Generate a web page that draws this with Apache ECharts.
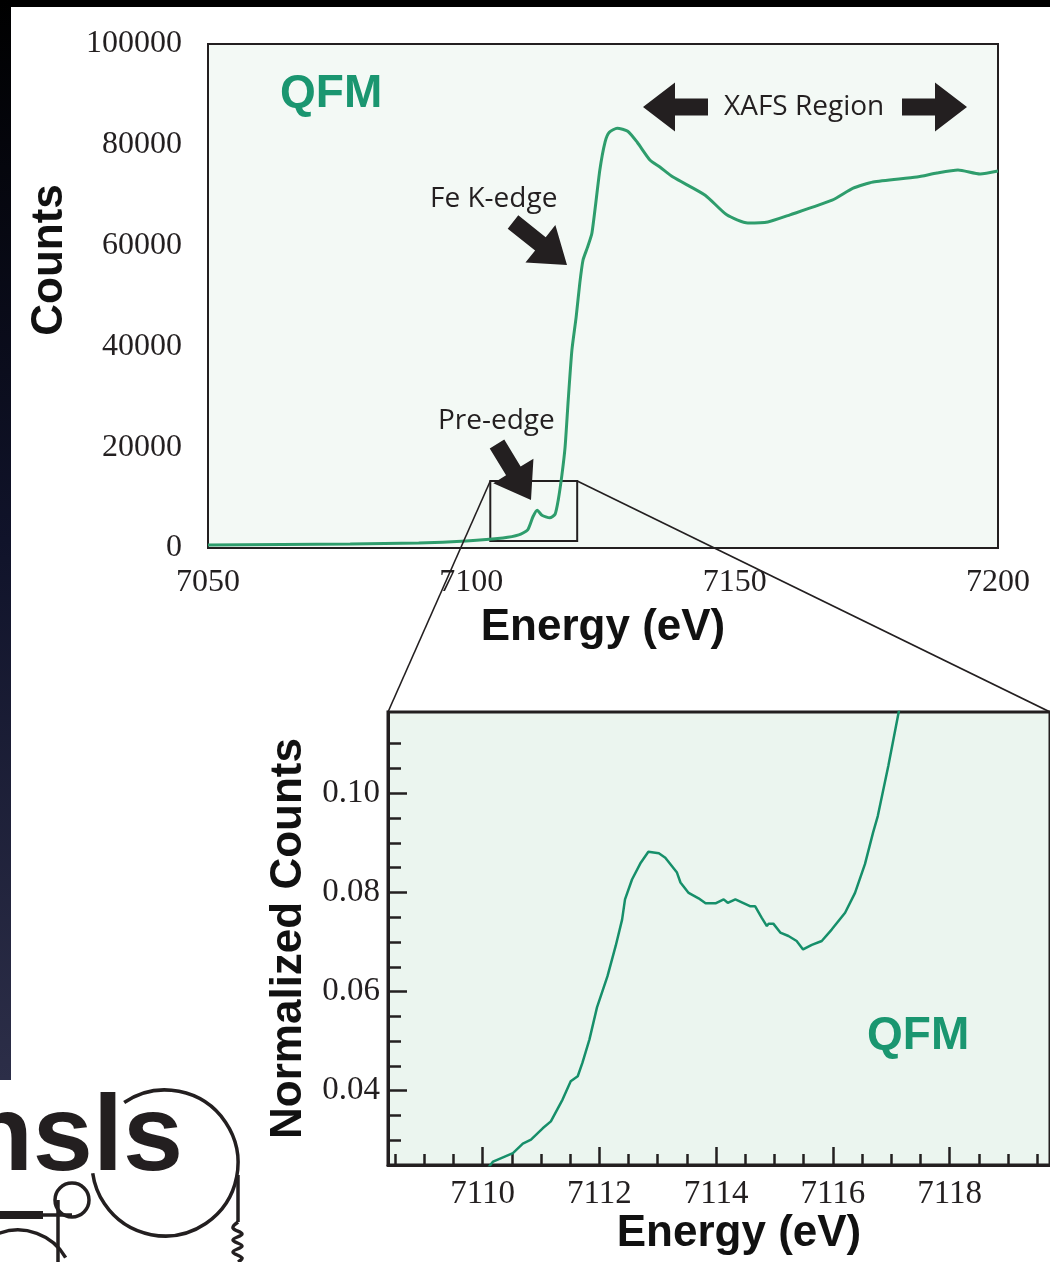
<!DOCTYPE html>
<html>
<head>
<meta charset="utf-8">
<script src="https://cdn.jsdelivr.net/npm/echarts@6/dist/echarts.min.js"></script>
<style>
  html, body { margin: 0; padding: 0; background: #fff; }
  #chart { width: 1050px; height: 1262px; }
</style>
</head>
<body>
<div id="chart"></div>
<script>
// full Fe K-edge scan (raw counts)
const scanEnergy = [7050, 7077, 7090, 7099, 7106, 7109, 7110.7, 7111.7, 7112.5, 7113.4, 7114.9, 7115.9, 7116.5,
  7117.2, 7117.8, 7118.4, 7119.1, 7119.9, 7120.6, 7121.2, 7122.0, 7122.9, 7124.4, 7125.4, 7126.2, 7127.7, 7129.7,
  7131.5, 7133.9, 7135.8, 7138.3, 7144.4, 7148.5, 7152.5, 7156.3, 7160.5, 7168.5, 7172.5, 7176.3, 7184.6, 7188.4,
  7192.4, 7196.6, 7200];
const scanCounts = [600, 800, 1000, 1400, 2000, 2600, 3600, 6200, 7500, 6500, 6000, 6700, 9500,
  14500, 20000, 29400, 39300, 45800, 52600, 57100, 59500, 62500, 75000, 80600, 82500, 83300, 82700,
  80500, 77000, 75600, 73600, 70000, 66100, 64500, 64700, 66100, 69000, 71400, 72600, 73600, 74400,
  75000, 74200, 74800];
const scanXTicks = [7050, 7100, 7150, 7200];
const scanYTicks = [0, 20000, 40000, 60000, 80000, 100000];

// pre-edge close-up (normalized counts)
const preEnergy = [7110.10, 7110.18, 7110.32, 7110.52, 7110.69, 7110.83, 7111.03, 7111.17, 7111.37, 7111.51, 7111.63,
  7111.71, 7111.83, 7111.96, 7112.14, 7112.28, 7112.39, 7112.44, 7112.56, 7112.71, 7112.84, 7113.02, 7113.13,
  7113.33, 7113.39, 7113.53, 7113.70, 7113.82, 7113.99, 7114.13, 7114.20, 7114.33, 7114.59, 7114.67, 7114.78,
  7114.87, 7114.90, 7114.98, 7115.10, 7115.24, 7115.38, 7115.49, 7115.64, 7115.81, 7115.98, 7116.21, 7116.38,
  7116.55, 7116.69, 7116.77, 7116.95, 7117.13, 7117.30];
const preNorm = [0.0245, 0.0257, 0.0264, 0.0274, 0.0293, 0.0301, 0.0324, 0.0338, 0.0382, 0.0419, 0.0429,
  0.0456, 0.0503, 0.0568, 0.0631, 0.0692, 0.0745, 0.0786, 0.0826, 0.0860, 0.0882, 0.0879, 0.0870,
  0.0840, 0.0820, 0.0799, 0.0788, 0.0778, 0.0778, 0.0786, 0.0779, 0.0786, 0.0772, 0.0772, 0.0749,
  0.0732, 0.0737, 0.0737, 0.0719, 0.0712, 0.0702, 0.0685, 0.0694, 0.0702, 0.0725, 0.0759, 0.0799,
  0.0857, 0.0921, 0.0954, 0.1055, 0.1165, 0.1260];
const preXMajor = [7110, 7112, 7114, 7116, 7118];
const preXMinor = [7108.5, 7109, 7109.5, 7110.5, 7111, 7111.5, 7112.5, 7113, 7113.5, 7114.5, 7115, 7115.5,
  7116.5, 7117, 7117.5, 7118.5, 7119, 7119.5];
const preYMajor = [0.04, 0.06, 0.08, 0.10];
const preYMinor = [0.03, 0.035, 0.045, 0.05, 0.055, 0.065, 0.07, 0.075, 0.085, 0.09, 0.095, 0.105, 0.11];
const preXRange = [7108.38, 7119.72];
const preYRange = [0.025, 0.1164];

// zoom box drawn on the scan
const zoomBox = [[7103.6, 1400], [7120.1, 13300]];

const INK = '#231f20';
const GREEN = '#1a9670';
const serif = 'Liberation Serif';
const sans = 'Liberation Sans';

const myChart = echarts.init(document.getElementById('chart'));

function arrow(tip, tail, shaftW, headW, headL) {
  const dx = tip[0] - tail[0], dy = tip[1] - tail[1];
  const len = Math.hypot(dx, dy);
  const ux = dx / len, uy = dy / len, px = -uy, py = ux;
  const bx = tip[0] - ux * headL, by = tip[1] - uy * headL;
  return [
    [tail[0] + px * shaftW / 2, tail[1] + py * shaftW / 2],
    [bx + px * shaftW / 2, by + py * shaftW / 2],
    [bx + px * headW / 2, by + py * headW / 2],
    tip,
    [bx - px * headW / 2, by - py * headW / 2],
    [bx - px * shaftW / 2, by - py * shaftW / 2],
    [tail[0] - px * shaftW / 2, tail[1] - py * shaftW / 2]
  ];
}
const arrowShape = (pts) => ({ type: 'polygon', shape: { points: pts }, style: { fill: INK }, z: 20 });
const note = (x, y, text) => ({
  type: 'text', x: x, y: y, z: 20,
  style: { text: text, fontFamily: 'Open Sans', fontSize: 28, fill: INK, textVerticalAlign: 'middle' }
});
const tickStyle = { color: INK, width: 2.5 };

const option = {
  animation: false,
  grid: [
    { left: 208, top: 44, width: 790, height: 504, show: true, backgroundColor: '#f3f9f5',
      borderColor: INK, borderWidth: 2 },
    { left: 388, top: 712, width: 664, height: 453, show: true, backgroundColor: '#ebf5ef',
      borderColor: INK, borderWidth: 3 }
  ],
  xAxis: [
    {
      type: 'value', gridIndex: 0, min: scanXTicks[0], max: scanXTicks[scanXTicks.length - 1], interval: 50,
      axisLine: { show: false }, axisTick: { show: false }, splitLine: { show: false },
      axisLabel: { fontFamily: serif, fontSize: 32, color: INK, margin: 19, formatter: v => String(v) },
      name: 'Energy (eV)', nameLocation: 'middle', nameGap: 58,
      nameTextStyle: { fontFamily: sans, fontWeight: 'bold', fontSize: 44, color: '#111' }
    },
    {
      type: 'value', gridIndex: 1, position: 'bottom', min: preXRange[0], max: preXRange[1],
      axisLine: { show: true, lineStyle: { color: INK, width: 3 } },
      axisTick: { show: true, inside: true, length: 18, lineStyle: tickStyle, customValues: preXMajor },
      splitLine: { show: false },
      axisLabel: { fontFamily: serif, fontSize: 33, color: INK, margin: 13, customValues: preXMajor,
        formatter: v => String(v) },
      name: 'Energy (eV)', nameLocation: 'middle', nameGap: 41,
      nameTextStyle: { fontFamily: sans, fontWeight: 'bold', fontSize: 44, color: '#111', padding: [0, 0, 0, 40] }
    },
    {
      type: 'value', gridIndex: 1, position: 'bottom', offset: 0, min: preXRange[0], max: preXRange[1],
      axisLine: { show: false },
      axisTick: { show: true, inside: true, length: 11, lineStyle: tickStyle, customValues: preXMinor },
      axisLabel: { show: false }, splitLine: { show: false }
    }
  ],
  yAxis: [
    {
      type: 'value', gridIndex: 0, min: scanYTicks[0], max: scanYTicks[scanYTicks.length - 1], interval: 20000,
      axisLine: { show: false }, axisTick: { show: false }, splitLine: { show: false },
      axisLabel: { fontFamily: serif, fontSize: 32, color: INK, margin: 26, formatter: v => String(v) },
      name: 'Counts', nameLocation: 'middle', nameGap: 136,
      nameTextStyle: { fontFamily: sans, fontWeight: 'bold', fontSize: 44, color: '#111', padding: [0, 0, 0, 72] }
    },
    {
      type: 'value', gridIndex: 1, position: 'left', min: preYRange[0], max: preYRange[1],
      axisLine: { show: true, lineStyle: { color: INK, width: 3 } },
      axisTick: { show: true, inside: true, length: 19, lineStyle: tickStyle, customValues: preYMajor },
      splitLine: { show: false },
      axisLabel: { fontFamily: serif, fontSize: 33, color: INK, margin: 8, customValues: preYMajor,
        formatter: v => v.toFixed(2) },
      name: 'Normalized Counts', nameLocation: 'middle', nameGap: 70,
      nameTextStyle: { fontFamily: sans, fontWeight: 'bold', fontSize: 44, color: '#111' }
    },
    {
      type: 'value', gridIndex: 1, position: 'left', offset: 0, min: preYRange[0], max: preYRange[1],
      axisLine: { show: false },
      axisTick: { show: true, inside: true, length: 13, lineStyle: tickStyle, customValues: preYMinor },
      axisLabel: { show: false }, splitLine: { show: false }
    }
  ],
  series: [
    {
      type: 'line', xAxisIndex: 0, yAxisIndex: 0, symbol: 'none', smooth: 0.2,
      lineStyle: { color: '#2e9d6c', width: 3 },
      data: scanEnergy.map((e, i) => [e, scanCounts[i]]),
      markArea: {
        silent: true,
        itemStyle: { color: 'rgba(0,0,0,0)', borderColor: INK, borderWidth: 2 },
        data: [[{ coord: zoomBox[0] }, { coord: zoomBox[1] }]]
      }
    },
    {
      type: 'line', xAxisIndex: 1, yAxisIndex: 1, symbol: 'none',
      lineStyle: { color: '#168f6a', width: 2.5 },
      data: preEnergy.map((e, i) => [e, preNorm[i]])
    }
  ]
};
myChart.setOption(option);

// connector lines from zoom box to the close-up panel
const boxTL = myChart.convertToPixel({ gridIndex: 0 }, [zoomBox[0][0], zoomBox[1][1]]);
const boxTR = myChart.convertToPixel({ gridIndex: 0 }, [zoomBox[1][0], zoomBox[1][1]]);
const panTL = myChart.convertToPixel({ gridIndex: 1 }, [preXRange[0], preYRange[1]]);
const panTR = myChart.convertToPixel({ gridIndex: 1 }, [preXRange[1], preYRange[1]]);

const logoStroke = { stroke: INK, lineWidth: 3.5, fill: 'none' };

myChart.setOption({
  graphic: [
    // slide frame
    { type: 'rect', shape: { x: 0, y: 0, width: 1050, height: 7 }, style: { fill: '#000' }, z: 30 },
    { type: 'rect', shape: { x: 0, y: 0, width: 11, height: 1080 }, z: 30,
      style: { fill: new echarts.graphic.LinearGradient(0, 0, 0, 1, [
        { offset: 0, color: '#000000' }, { offset: 0.5, color: '#10132a' }, { offset: 1, color: '#2c2e48' }]) } },
    // zoom connectors
    { type: 'line', shape: { x1: boxTL[0], y1: boxTL[1], x2: panTL[0], y2: panTL[1] },
      style: { stroke: INK, lineWidth: 1.6 }, z: 15 },
    { type: 'line', shape: { x1: boxTR[0], y1: boxTR[1], x2: panTR[0], y2: panTR[1] },
      style: { stroke: INK, lineWidth: 1.6 }, z: 15 },
    // labels
    { type: 'text', x: 280, y: 94, z: 20,
      style: { text: 'QFM', fontFamily: sans, fontWeight: 'bold', fontSize: 46, fill: GREEN, textVerticalAlign: 'middle' } },
    { type: 'text', x: 867, y: 1036, z: 20,
      style: { text: 'QFM', fontFamily: sans, fontWeight: 'bold', fontSize: 46, fill: GREEN, textVerticalAlign: 'middle' } },
    note(430, 199, 'Fe K-edge'),
    note(438, 421, 'Pre-edge'),
    note(724, 107, 'XAFS Region'),
    arrowShape(arrow([567, 265], [513, 222], 17, 48, 34)),
    arrowShape(arrow([531, 500], [497, 444], 17, 47, 34)),
    arrowShape(arrow([643, 107], [708, 107], 17, 49, 32)),
    arrowShape(arrow([967, 107], [902, 107], 17, 49, 32)),
    // nsls logo fragment
    { type: 'text', x: 183, y: 1140, z: 20,
      style: { text: 'nsls', fontFamily: sans, fontWeight: 'bold', fontSize: 108, fill: INK,
        textAlign: 'right', textVerticalAlign: 'middle' } },
    { type: 'arc', shape: { cx: 165, cy: 1163, r: 73, startAngle: 236 * Math.PI / 180, endAngle: 532 * Math.PI / 180, clockwise: true },
      style: logoStroke, z: 20 },
    { type: 'circle', shape: { cx: 72, cy: 1200, r: 17 }, style: logoStroke, z: 20 },
    { type: 'line', shape: { x1: 0, y1: 1215, x2: 43, y2: 1215 }, style: { stroke: INK, lineWidth: 8 }, z: 20 },
    { type: 'line', shape: { x1: 43, y1: 1215, x2: 72, y2: 1215 }, style: { stroke: INK, lineWidth: 3.5 }, z: 20 },
    { type: 'line', shape: { x1: 58, y1: 1200, x2: 58, y2: 1262 }, style: { stroke: INK, lineWidth: 3.5 }, z: 20 },
    { type: 'arc', shape: { cx: 18, cy: 1285, r: 55, startAngle: 200 * Math.PI / 180, endAngle: 330 * Math.PI / 180, clockwise: true },
      style: logoStroke, z: 20 },
    { type: 'line', shape: { x1: 238, y1: 1175, x2: 238, y2: 1222 }, style: { stroke: INK, lineWidth: 3.5 }, z: 20 },
    { type: 'polyline', z: 20, style: { stroke: INK, lineWidth: 3.5, fill: 'none' },
      shape: { points: [[238, 1222], [233, 1228], [242, 1234], [233, 1240], [242, 1246], [233, 1252], [242, 1258], [238, 1262]], smooth: 0.4 } }
  ]
});
</script>
</body>
</html>
